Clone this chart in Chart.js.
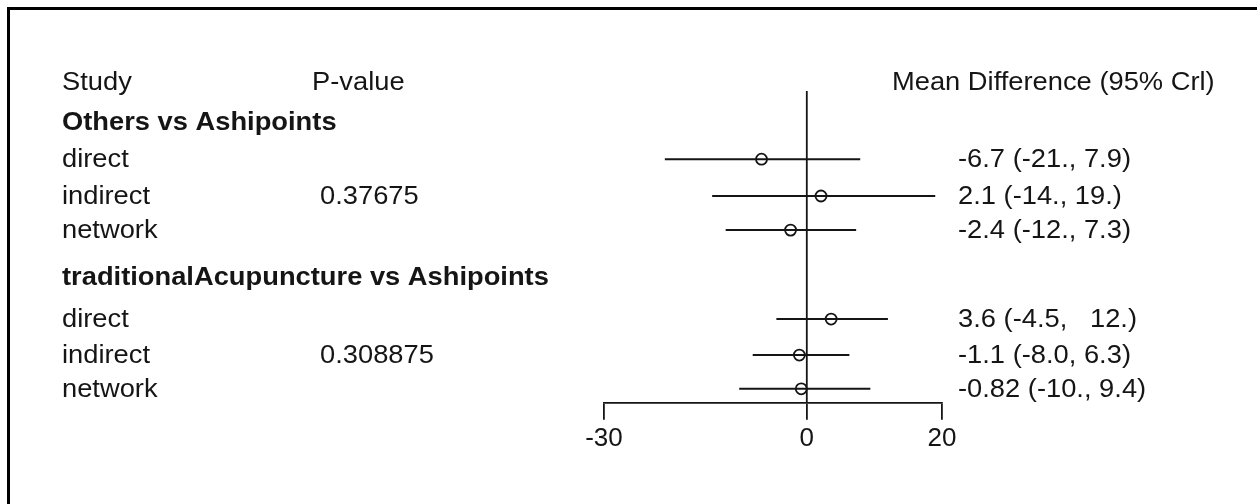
<!DOCTYPE html>
<html>
<head>
<meta charset="utf-8">
<script src="https://cdn.jsdelivr.net/npm/chart.js@4"></script>
<style>
  html, body { margin: 0; padding: 0; background: #fff; }
  #wrap { position: relative; width: 1257px; height: 504px; }
</style>
</head>
<body>
<div id="wrap"><canvas id="myChart" width="1257" height="504"></canvas></div>
<script>
// data
var groups = ["Others vs Ashipoints", "traditionalAcupuncture vs Ashipoints"];
var studies = ["direct", "indirect", "network", "direct", "indirect", "network"];
var pValues = ["0.37675", "0.308875"];
var meanDiff = [-6.7, 2.1, -2.4, 3.6, -1.1, -0.82];
var lower = [-21, -14, -12, -4.5, -8.0, -10];
var upper = [7.9, 19, 7.3, 12, 6.3, 9.4];
var ciLabels = ["-6.7 (-21., 7.9)", "2.1 (-14., 19.)", "-2.4 (-12., 7.3)",
                "3.6 (-4.5,   12.)", "-1.1 (-8.0, 6.3)", "-0.82 (-10., 9.4)"];
var xTicks = [-30, 0, 20];

// row layout (in row units, top to bottom)
var headRow = 0;
var groupRows = [1.04, 5.08];
var studyRows = [2.01, 2.97, 3.86, 6.18, 7.12, 8];
var pRows = [2.97, 7.12];

var ink = "#151515";
var fontFam = "'Liberation Sans', Arial, sans-serif";

var datasets = [];
// zero line
datasets.push({
  type: "line",
  data: [{x: 0, y: 0.23}, {x: 0, y: 8.365}],
  borderColor: ink, borderWidth: 1.8, pointRadius: 0
});
// interval lines
for (var i = 0; i < meanDiff.length; i++) {
  datasets.push({
    type: "line",
    data: [{x: lower[i], y: studyRows[i]}, {x: upper[i], y: studyRows[i]}],
    borderColor: ink, borderWidth: 2, pointRadius: 0
  });
}
// point estimates
datasets.push({
  type: "scatter",
  data: meanDiff.map(function (v, i) { return {x: v, y: studyRows[i]}; }),
  pointStyle: "circle", pointRadius: 5.5,
  backgroundColor: "#fff", borderColor: ink, borderWidth: 1.8
});

var textPlugin = {
  id: "forestText",
  beforeDraw: function (chart) {
    var ctx = chart.ctx;
    ctx.save();
    ctx.fillStyle = "#fff";
    ctx.fillRect(0, 0, chart.width, chart.height);
    // frame
    ctx.fillStyle = "#000";
    ctx.fillRect(7, 7, chart.width - 7, 3);
    ctx.fillRect(7, 7, 3, chart.height - 7);
    ctx.restore();
  },
  afterDraw: function (chart) {
    var ctx = chart.ctx;
    var ys = chart.scales.y;
    function put(txt, x, row, bold) {
      ctx.save();
      ctx.font = (bold ? "bold " : "") + "26px " + fontFam;
      ctx.fillStyle = ink;
      ctx.textBaseline = "middle";
      ctx.translate(x, ys.getPixelForValue(row) + 1);
      ctx.scale(1.05, 1);
      ctx.fillText(txt, 0, 0);
      ctx.restore();
    }
    put("Study", 62, headRow);
    put("P-value", 312, headRow);
    put("Mean Difference (95% Crl)", 892, headRow);
    for (var g = 0; g < groups.length; g++) {
      put(groups[g], 62, groupRows[g], true);
      put(pValues[g], 320, pRows[g]);
    }
    for (var i = 0; i < studies.length; i++) {
      put(studies[i], 62, studyRows[i]);
      put(ciLabels[i], 958, studyRows[i]);
    }
  }
};

new Chart("myChart", {
  type: "scatter",
  data: { datasets: datasets },
  options: {
    responsive: false,
    animation: false,
    events: [],
    layout: { padding: { left: 604, right: 315, top: 63, bottom: 47 } },
    plugins: { legend: { display: false }, tooltip: { enabled: false } },
    scales: {
      x: {
        type: "linear", min: -30, max: 20,
        afterBuildTicks: function (scale) {
          scale.ticks = xTicks.map(function (v) { return {value: v}; });
        },
        border: { display: true, color: ink, width: 1.8 },
        grid: { drawOnChartArea: false, drawTicks: true, tickLength: 17, color: ink, lineWidth: 1.8 },
        ticks: { color: ink, padding: 3, maxRotation: 0, autoSkip: false,
                 font: { family: "'Liberation Sans', Arial, sans-serif", size: 26 } }
      },
      y: { type: "linear", reverse: true, min: -0.5, max: 8.365, display: false }
    }
  },
  plugins: [textPlugin]
});
</script>
</body>
</html>
